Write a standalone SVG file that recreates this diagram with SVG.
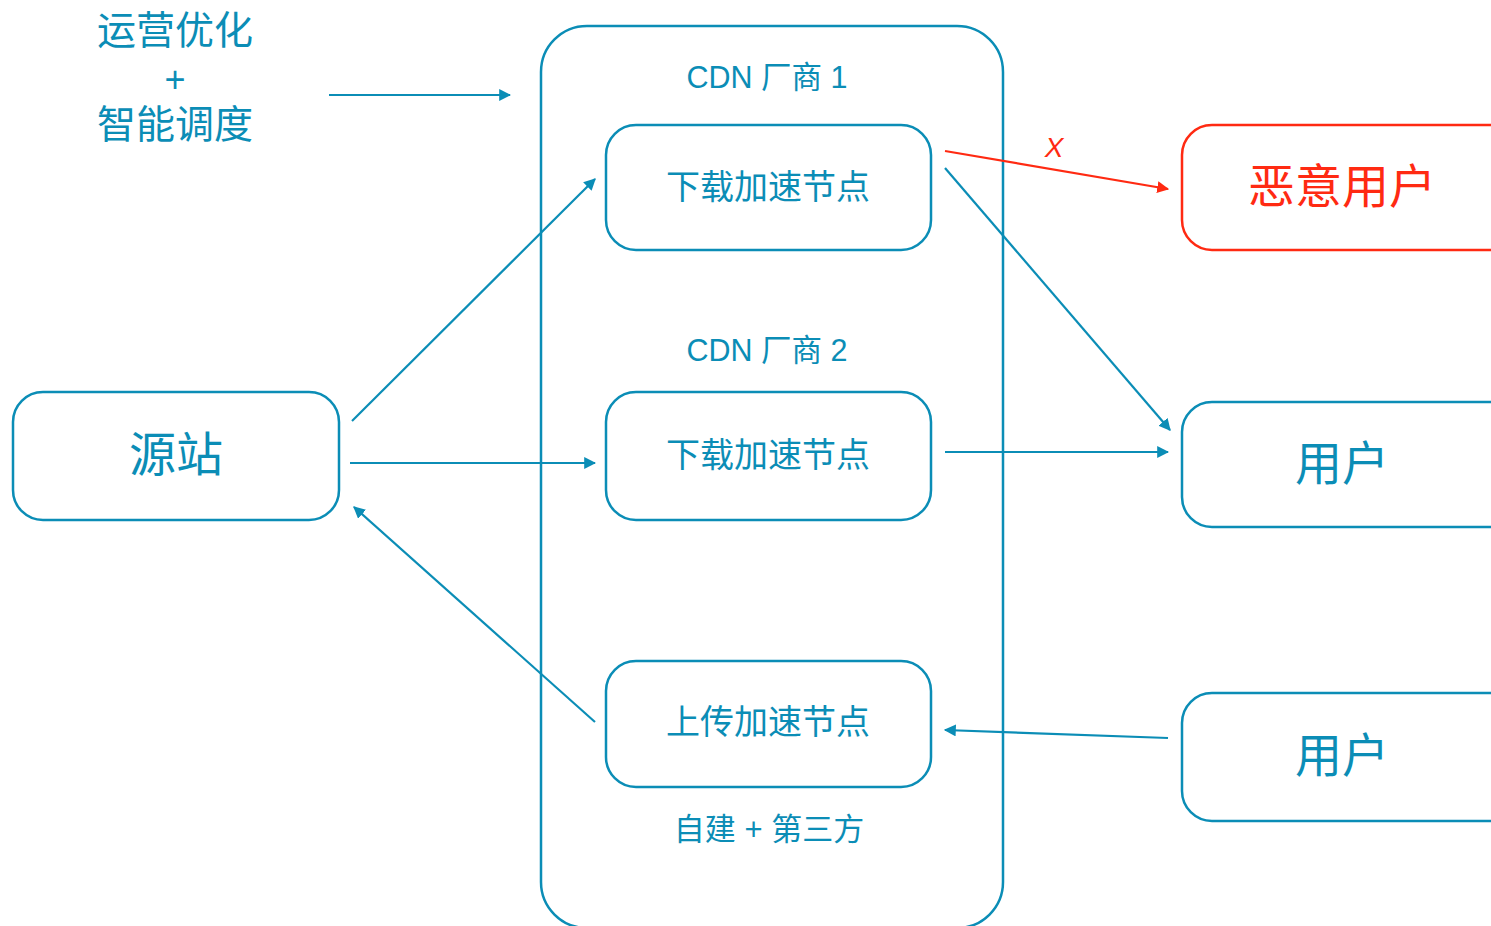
<svg xmlns="http://www.w3.org/2000/svg" width="1491" height="926" viewBox="0 0 1491 926">
<defs>
<marker id="ab" viewBox="0 0 10 10" refX="9" refY="5" markerWidth="12" markerHeight="12" markerUnits="userSpaceOnUse" orient="auto"><path d="M0,0 L10,5 L0,10 z" fill="#0b8db6"/></marker>
<marker id="ar" viewBox="0 0 10 10" refX="9" refY="5" markerWidth="12" markerHeight="12" markerUnits="userSpaceOnUse" orient="auto"><path d="M0,0 L10,5 L0,10 z" fill="#ff2a12"/></marker>
<style>
.b{fill:none;stroke:#0b8db6;stroke-width:2.5}
.r{fill:none;stroke:#ff2a12;stroke-width:2.5}
.t{font-family:"Liberation Sans","Noto Sans CJK SC",sans-serif;fill:#0b8db6;text-anchor:middle}
.c{stroke:#0b8db6;stroke-width:2.2;fill:none;marker-end:url(#ab)}
.cr{stroke:#ff2a12;stroke-width:2.2;fill:none;marker-end:url(#ar)}
</style>
</defs>
<rect width="1491" height="926" fill="#fff"/>
<g id="label-ops">
<text class="t" x="175" y="44" font-size="39">运营优化</text>
<text class="t" x="175" y="92" font-size="36">+</text>
<text class="t" x="175" y="138" font-size="39">智能调度</text>
</g>
<g id="cdn-container">
<rect class="b" x="541" y="26" width="462" height="902" rx="46"/>
<text class="t" x="767" y="88" font-size="30.5">CDN 厂商 1</text>
<text class="t" x="767" y="361" font-size="30.5">CDN 厂商 2</text>
<text class="t" x="769" y="840" font-size="31">自建 + 第三方</text>
</g>
<g id="dl1"><rect class="b" x="606" y="125" width="325" height="125" rx="30"/><text class="t" x="768" y="199" font-size="34">下载加速节点</text></g>
<g id="dl2"><rect class="b" x="606" y="392" width="325" height="128" rx="30"/><text class="t" x="768" y="467" font-size="34">下载加速节点</text></g>
<g id="up"><rect class="b" x="606" y="661" width="325" height="126" rx="30"/><text class="t" x="768" y="734" font-size="34">上传加速节点</text></g>
<g id="origin"><rect class="b" x="13" y="392" width="326" height="128" rx="30"/><text class="t" x="176" y="471" font-size="47">源站</text></g>
<g id="bad"><rect class="r" x="1182" y="125" width="340" height="125" rx="30"/><text class="t" x="1342" y="203" font-size="47" style="fill:#ff2a12">恶意用户</text></g>
<g id="user1"><rect class="b" x="1182" y="402" width="340" height="125" rx="30"/><text class="t" x="1342" y="480" font-size="47">用户</text></g>
<g id="user2"><rect class="b" x="1182" y="693" width="340" height="128" rx="30"/><text class="t" x="1342" y="772" font-size="47">用户</text></g>
<g id="connectors">
<line class="c" x1="329" y1="95" x2="510" y2="95"/>
<line class="c" x1="352" y1="421" x2="595" y2="179"/>
<line class="c" x1="350" y1="463" x2="595" y2="463"/>
<line class="c" x1="595" y1="722" x2="354" y2="507"/>
<line class="c" x1="945" y1="452" x2="1168" y2="452"/>
<line class="c" x1="945" y1="168" x2="1170" y2="430"/>
<line class="cr" x1="945" y1="151" x2="1168" y2="189"/>
<line class="c" x1="1168" y1="738" x2="945" y2="730"/>
<text x="1054" y="157" font-size="28" font-family="Liberation Sans, sans-serif" fill="#ff2a12" text-anchor="middle" font-style="italic">X</text>
</g>
</svg>
